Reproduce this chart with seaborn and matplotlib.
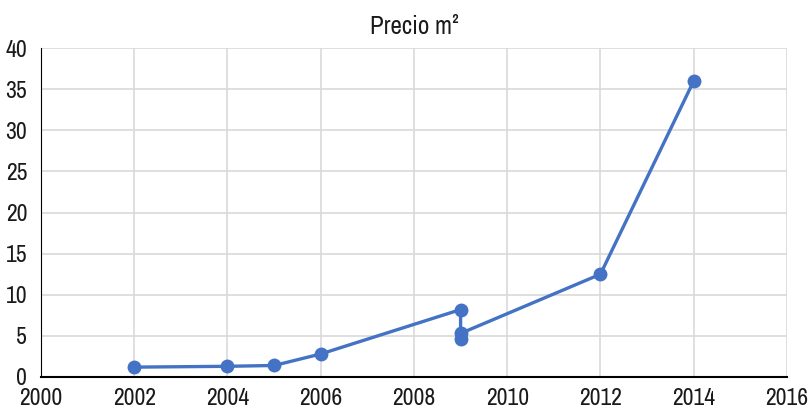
import matplotlib
matplotlib.use("Agg")
import matplotlib.pyplot as plt
import seaborn as sns
import pandas as pd
from matplotlib import font_manager

# Data
years = [2002, 2004, 2005, 2006, 2009, 2009, 2009, 2012, 2014]
precio = [1.2, 1.3, 1.4, 2.8, 8.2, 4.6, 5.3, 12.5, 36.0]

x_ticks = list(range(2000, 2017, 2))
y_ticks = list(range(0, 41, 5))

df = pd.DataFrame({"Año": years, "Precio": precio})

sns.set_theme(style="white")
# condensed face, closest to the reference's narrow font
names = sorted({f.name for f in font_manager.fontManager.ttflist})
narrow = [n for n in names if "Narrow" in n or "Condensed" in n]
plt.rcParams['font.family'] = narrow[:1] + ['DejaVu Sans']
plt.rcParams['font.stretch'] = 'condensed'

fig = plt.figure(figsize=(8.09, 4.08), dpi=100)
ax = fig.add_axes([0.0507, 0.076, 0.922, 0.806])

sns.lineplot(data=df, x="Año", y="Precio", sort=False, estimator=None,
             color="#4472C4", linewidth=2.4, marker="o", markersize=10,
             markeredgewidth=0, ax=ax)

ax.set_xlim(2000, 2016)
ax.set_ylim(0, 40)
ax.set_xticks(x_ticks)
ax.set_yticks(y_ticks)
ax.grid(True, color="#d9d9d9", linewidth=1.2)
ax.set_axisbelow(True)
for side in ["top", "right"]:
    ax.spines[side].set_visible(False)
ax.spines["left"].set_color("#000000")
ax.spines["left"].set_linewidth(0.8)
ax.spines["bottom"].set_color("#000000")
ax.spines["bottom"].set_linewidth(1.5)
ax.tick_params(axis="both", labelsize=17, colors="#1a1a1a", length=0)
ax.tick_params(axis="x", pad=8)
ax.tick_params(axis="y", pad=10)
ax.set_xlabel("")
ax.set_ylabel("")
ax.set_title("Precio m²", fontsize=18, color="#1a1a1a", pad=10)

fig.savefig("out.png", dpi=100)
